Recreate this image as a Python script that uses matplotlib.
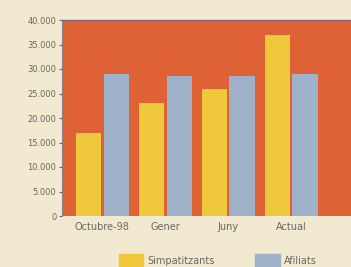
import numpy as np
import matplotlib.pyplot as plt
from matplotlib.ticker import FuncFormatter
from matplotlib.patches import Patch

categories = ['Octubre-98', 'Gener', 'Juny', 'Actual']
simpatitzants = [17000, 23000, 26000, 37000]
afiliats = [29000, 28500, 28500, 29000]

bg = '#f2ead0'
plot_bg = '#df6236'
yellow = '#f0c83c'
blue = '#9eb1c9'
txt = '#6b6660'

fig = plt.figure(figsize=(3.51, 2.67), dpi=100, facecolor=bg)
ax = fig.add_axes([62 / 351, 1 - 216 / 267, 1 - 62 / 351, 196 / 267])
ax.set_facecolor(plot_bg)

x = np.arange(len(categories))
w = 0.4
ax.bar(x - 0.22, simpatitzants, w, color=yellow)
ax.bar(x + 0.22, afiliats, w, color=blue)

ax.set_xlim(-0.64, 3.95)
ax.set_ylim(0, 40000)
ax.set_yticks(range(0, 40001, 5000))
ax.yaxis.set_major_formatter(FuncFormatter(lambda v, p: f'{int(v):,}'.replace(',', '.')))
ax.set_xticks(x)
ax.set_xticklabels(categories)
ax.tick_params(axis='y', labelsize=6, colors=txt, length=2, pad=2)
ax.tick_params(axis='x', labelsize=7, colors=txt, length=0, pad=4)

for s in ['right', 'bottom']:
    ax.spines[s].set_visible(False)
ax.spines['left'].set_color('#8a7a8a')
ax.spines['top'].set_color('#7a6a7a')
ax.spines['top'].set_linewidth(1.0)

handles = [Patch(color=yellow, label='Simpatitzants'), Patch(color=blue, label='Afiliats')]
fig.legend(handles=handles, loc='center', bbox_to_anchor=(0.62, 0.025), ncol=2, frameon=False,
           fontsize=7, labelcolor=txt, handlelength=2.5, handleheight=1.6, columnspacing=4.2,
           handletextpad=0.4)

fig.savefig('out.png', dpi=100, facecolor=bg)
